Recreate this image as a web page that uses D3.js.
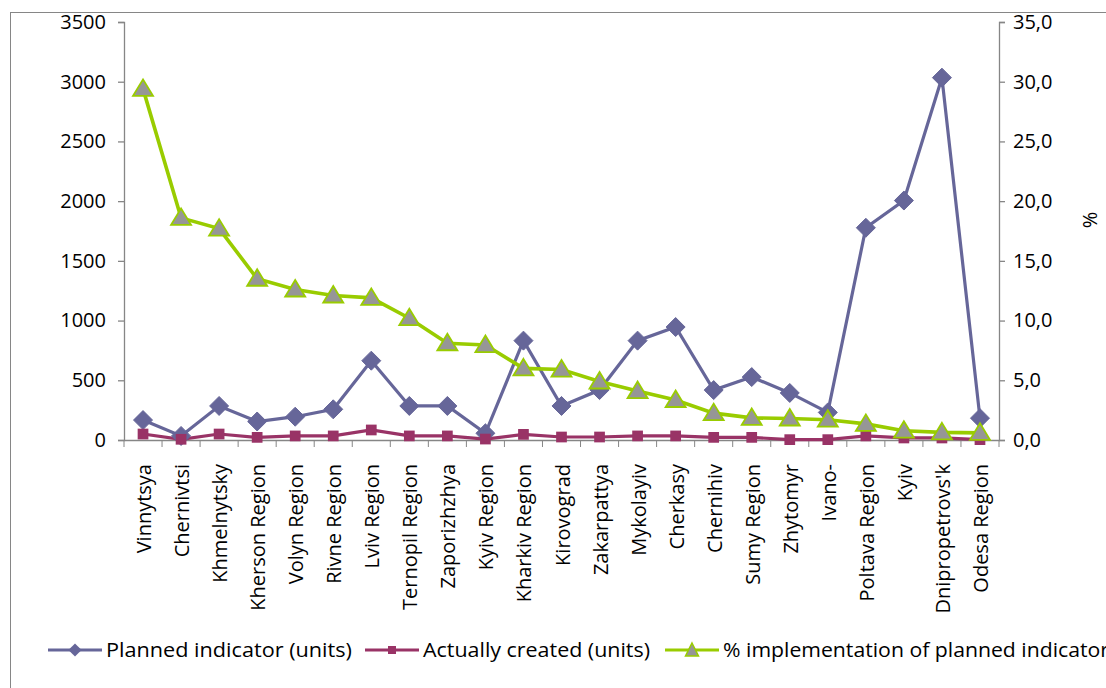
<!DOCTYPE html>
<html lang="en">
<head>
    <meta charset="UTF-8">
    <title>Planned vs created</title>
    <script src="https://cdnjs.cloudflare.com/ajax/libs/d3/7.8.5/d3.min.js"></script>
    <style>
        body { margin: 0; background: #fff; }
        svg { display: block; font-family: "Open Sans", sans-serif; }
    </style>
</head>
<body>
<div id="chart"></div>
<script>
    // categories (regions) in the order shown
    const regions = ["Vinnytsya", "Chernivtsi", "Khmelnytsky", "Kherson Region", "Volyn Region",
        "Rivne Region", "Lviv Region", "Ternopil Region", "Zaporizhzhya", "Kyiv Region",
        "Kharkiv Region", "Kirovograd", "Zakarpattya", "Mykolayiv", "Cherkasy", "Chernihiv",
        "Sumy Region", "Zhytomyr", "Ivano-", "Poltava Region", "Kyiv", "Dnipropetrovs'k", "Odesa Region"];

    // left axis (units)
    const planned = [167, 34, 285, 155, 195, 257, 664, 285, 285, 56, 832, 285, 418, 832, 946,
        418, 527, 394, 231, 1777, 2005, 3034, 183];
    const created = [50, 6, 50, 22, 34, 34, 84, 34, 34, 8, 47, 25, 25, 34, 34,
        22, 22, 3, 3, 34, 17, 17, 3];

    // right axis (%)
    const percent = [29.4, 18.6, 17.7, 13.5, 12.6, 12.1, 11.9, 10.2, 8.1, 7.95, 6.0, 5.9, 4.9,
        4.1, 3.35, 2.25, 1.85, 1.8, 1.7, 1.35, 0.78, 0.64, 0.6];

    const leftTicks = [0, 500, 1000, 1500, 2000, 2500, 3000, 3500];
    const rightTicks = [0, 5, 10, 15, 20, 25, 30, 35];

    const seriesNames = ["Planned indicator (units)", "Actually created (units)", "% implementation of planned indicator"];

    const W = 1106, H = 688;
    const axisColor = "#868686";
    const cPlanned = "#666699", cCreated = "#993366", cPct = "#99CC00", cTri = "#969696";

    const svg = d3.select("#chart").append("svg")
        .attr("width", W).attr("height", H);

    // outer chart frame
    svg.append("rect")
        .attr("x", 10.5).attr("y", 12.5)
        .attr("width", 1200).attr("height", 800)
        .attr("fill", "none").attr("stroke", axisColor).attr("stroke-width", 1);

    const x = d3.scaleBand().domain(regions).range([124, 999]).padding(0);
    const yL = d3.scaleLinear().domain([0, 3500]).range([440, 22]);
    const yR = d3.scaleLinear().domain([0, 35]).range([440, 22]);
    const cx = d => x(d) + x.bandwidth() / 2;

    // left axis
    const gL = svg.append("g").attr("transform", "translate(124,0)")
        .call(d3.axisLeft(yL).tickValues(leftTicks).tickSize(6).tickPadding(12).tickFormat(d3.format("d")));
    // right axis
    const gR = svg.append("g").attr("transform", "translate(999,0)")
        .call(d3.axisRight(yR).tickValues(rightTicks).tickSize(6).tickPadding(8)
            .tickFormat(d => d3.format(".1f")(d).replace(".", ",")));
    // bottom axis (ticks at band boundaries)
    const gB = svg.append("g").attr("transform", "translate(0,440)")
        .call(d3.axisBottom(x).tickSize(0).tickPadding(0).tickFormat(""));
    gB.selectAll(".tick").remove();
    gB.selectAll("line.bt")
        .data(regions.concat(["_end"]))
        .enter().append("line")
        .attr("class", "bt")
        .attr("x1", (d, i) => 124 + i * x.bandwidth())
        .attr("x2", (d, i) => 124 + i * x.bandwidth())
        .attr("y1", 0).attr("y2", 7)
        .attr("stroke", axisColor);

    [gL, gR, gB].forEach(g => {
        g.select(".domain").attr("stroke", axisColor).attr("stroke-width", 1.3);
        g.selectAll(".tick line").attr("stroke", axisColor).attr("stroke-width", 1.3);
        g.selectAll(".tick text").attr("font-size", 20).attr("fill", "#000")
            .attr("font-family", "'Open Sans', sans-serif");
    });

    // category labels, rotated
    svg.append("g").selectAll("text.cat")
        .data(regions)
        .enter().append("text")
        .attr("class", "cat")
        .attr("transform", d => `translate(${cx(d) + 1},464) rotate(-90)`)
        .attr("text-anchor", "end")
        .attr("dy", "0.35em")
        .attr("font-size", 20)
        .text(d => d);

    // right axis title
    svg.append("text")
        .attr("transform", "translate(1090,220) rotate(-90)")
        .attr("text-anchor", "middle")
        .attr("dy", "0.35em")
        .attr("font-size", 20)
        .text("%");

    // lines
    const lineL = d3.line().x((d, i) => cx(regions[i])).y(d => yL(d));
    const lineR = d3.line().x((d, i) => cx(regions[i])).y(d => yR(d));

    svg.append("path").datum(planned).attr("d", lineL)
        .attr("fill", "none").attr("stroke", cPlanned).attr("stroke-width", 3.2);
    svg.append("path").datum(created).attr("d", lineL)
        .attr("fill", "none").attr("stroke", cCreated).attr("stroke-width", 3.2);
    svg.append("path").datum(percent).attr("d", lineR)
        .attr("fill", "none").attr("stroke", cPct).attr("stroke-width", 3.6);

    // markers
    const diamond = d3.symbol().type(d3.symbolDiamond2).size(230);
    const square = d3.symbol().type(d3.symbolSquare).size(115);
    const tri = "M0,-9.5L10,7L-10,7Z";

    svg.append("g").selectAll("path")
        .data(planned).enter().append("path")
        .attr("transform", (d, i) => `translate(${cx(regions[i])},${yL(d)})`)
        .attr("d", diamond).attr("fill", cPlanned)
        .attr("stroke", cPlanned).attr("stroke-width", 1).attr("stroke-linejoin", "round");

    svg.append("g").selectAll("path")
        .data(created).enter().append("path")
        .attr("transform", (d, i) => `translate(${cx(regions[i])},${yL(d)})`)
        .attr("d", square).attr("fill", cCreated);

    svg.append("g").selectAll("path")
        .data(percent).enter().append("path")
        .attr("transform", (d, i) => `translate(${cx(regions[i])},${yR(d)})`)
        .attr("d", tri).attr("fill", cTri).attr("stroke", cPct).attr("stroke-width", 1.8);

    // legend
    const legendX = [48, 365, 665];
    const legendW = [246, 227, 386];
    const legendColors = [cPlanned, cCreated, cPct];
    const lg = svg.append("g").attr("transform", "translate(0,650)");
    seriesNames.forEach((name, i) => {
        const g = lg.append("g").attr("transform", `translate(${legendX[i]},0)`);
        g.append("line").attr("x1", 0).attr("x2", 54).attr("y1", 0).attr("y2", 0)
            .attr("stroke", legendColors[i]).attr("stroke-width", 3.2);
        if (i === 0) {
            g.append("path").attr("transform", "translate(27,0)")
                .attr("d", d3.symbol().type(d3.symbolDiamond2).size(110)).attr("fill", cPlanned);
        } else if (i === 1) {
            g.append("path").attr("transform", "translate(27,0)")
                .attr("d", d3.symbol().type(d3.symbolSquare).size(64)).attr("fill", cCreated);
        } else {
            g.append("path").attr("transform", "translate(27,0)")
                .attr("d", "M0,-7L6.5,6L-6.5,6Z").attr("fill", cTri)
                .attr("stroke", cPct).attr("stroke-width", 1.5);
        }
        g.append("text")
            .attr("x", 58).attr("y", 0).attr("dy", "0.35em")
            .attr("font-size", 20)
            .attr("textLength", legendW[i])
            .attr("lengthAdjust", "spacingAndGlyphs")
            .text(name);
    });
</script>
</body>
</html>
